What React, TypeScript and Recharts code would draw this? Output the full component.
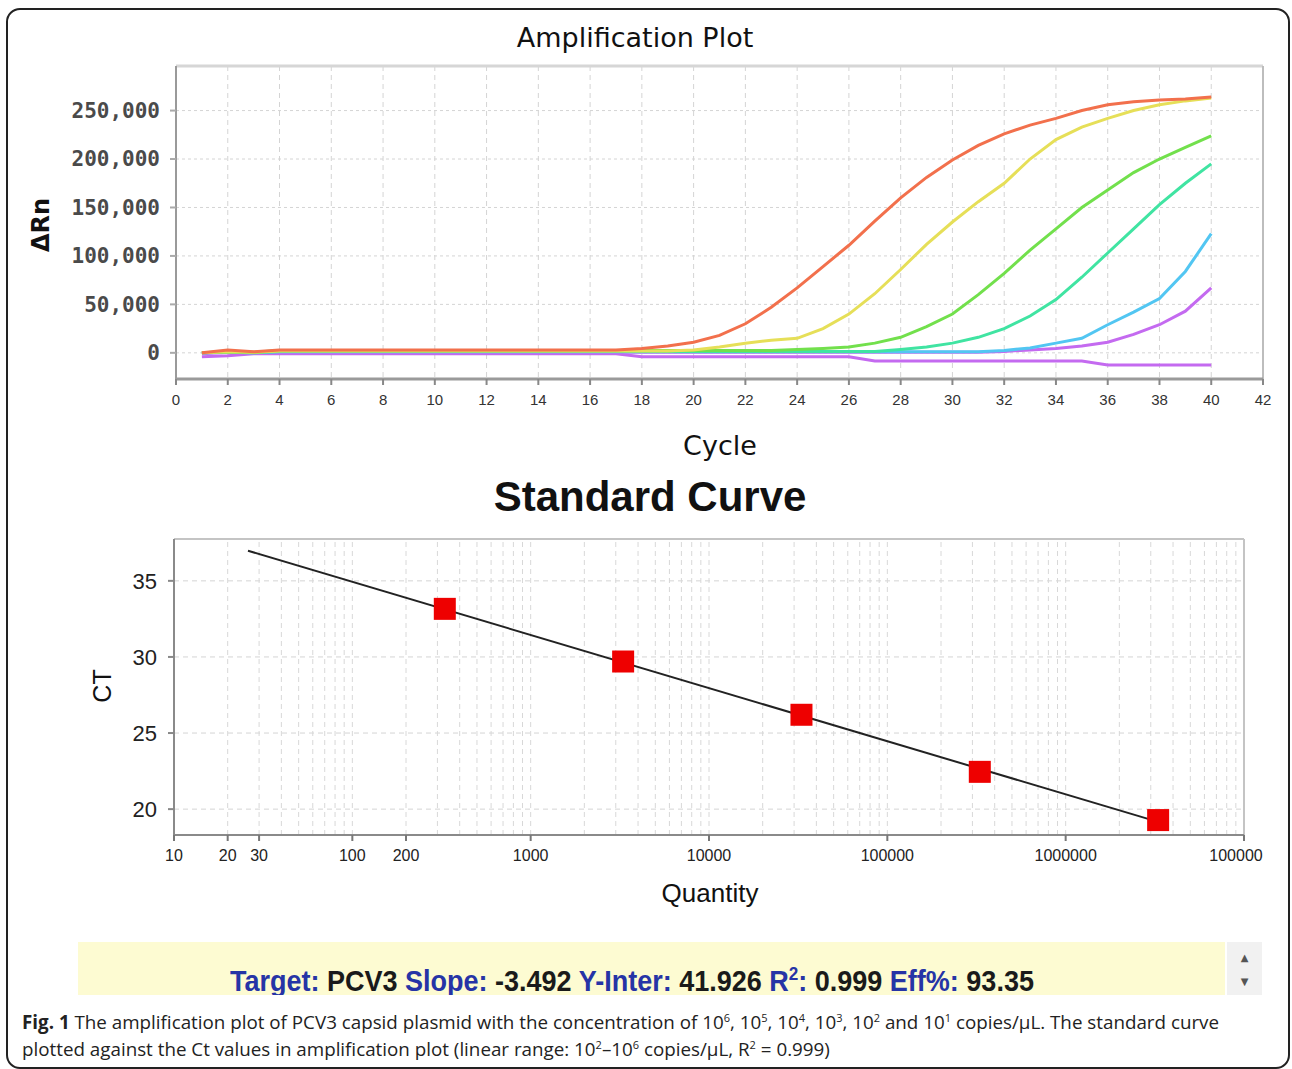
import React from 'react';
import { LineChart, Line, XAxis, YAxis, CartesianGrid, ReferenceLine, ComposedChart, Scatter } from 'recharts';

// ---------- Amplification plot data ----------
const cycles = [1,2,3,4,5,6,7,8,9,10,11,12,13,14,15,16,17,18,19,20,21,22,23,24,25,26,27,28,29,30,31,32,33,34,35,36,37,38,39,40];
const rn1e6 = [0,3000,1000,3000,3000,3000,3000,3000,3000,3000,3000,3000,3000,3000,3000,3000,3000,4500,7000,11000,18000,30000,47000,67000,89000,111000,136000,160000,181000,199000,214000,226000,235000,242000,250000,256000,259000,261000,262000,264000];
const rn1e5 = [0,1000,500,2000,2000,2000,2000,2000,2000,2000,2000,2000,2000,2000,2000,2000,2000,2000,2000,3000,6000,10000,13000,15000,25000,40000,61000,86000,112000,135000,156000,175000,200000,220000,233000,242000,250000,256000,260000,263000];
const rn1e4 = [0,1000,500,2500,2500,2500,2500,2500,2500,2500,2500,2500,2500,2500,2500,2500,2500,2500,2500,2500,2500,2500,2500,3500,4500,6000,10000,16000,27000,40000,60000,82000,106000,128000,150000,168000,186000,200000,212000,224000];
const rn1e3 = [0,500,0,1500,1500,1500,1500,1500,1500,1500,1500,1500,1500,1500,1500,1500,1500,1500,1500,1500,1500,1500,1500,1500,1500,1500,1500,3500,6000,10000,16000,25000,38000,55000,78000,103000,128000,153000,175000,195000];
const rn1e2 = [0,500,0,1000,1000,1000,1000,1000,1000,1000,1000,1000,1000,1000,1000,1000,1000,1000,1000,1000,1000,1000,1000,1000,1000,1000,1000,1000,1000,1000,1000,2500,5000,10000,15000,29000,42000,56000,84000,123000];
const rn1e1 = [-1000,500,500,500,500,500,500,500,500,500,500,500,500,500,500,500,500,500,500,500,500,500,500,500,500,500,500,500,500,500,500,1500,3000,4500,7000,11000,19000,29000,43000,67000];
const rnNtc = [-4000,-3000,-1000,-1000,-1000,-1000,-1000,-1000,-1000,-1000,-1000,-1000,-1000,-1000,-1000,-1000,-1000,-4000,-4000,-4000,-4000,-4000,-4000,-4000,-4000,-4000,-8500,-8500,-8500,-8500,-8500,-8500,-8500,-8500,-8500,-12500,-12500,-12500,-12500,-12500];
const cycleTicks = [0,2,4,6,8,10,12,14,16,18,20,22,24,26,28,30,32,34,36,38,40,42];
const rnTicks = [0,50000,100000,150000,200000,250000];

const ampData = cycles.map((c, i) => ({
  cycle: c,
  s1e6: rn1e6[i], s1e5: rn1e5[i], s1e4: rn1e4[i], s1e3: rn1e3[i], s1e2: rn1e2[i], s1e1: rn1e1[i], ntc: rnNtc[i],
}));

// ---------- Standard curve data ----------
const stdQuantity = [330, 3300, 33000, 330000, 3300000];
const stdCt = [33.16, 29.7, 26.2, 22.45, 19.28];
const fitQuantity = [26, 3300000];
const fitCt = [36.98, 19.16];
const qTicks = [10, 20, 30, 100, 200, 1000, 10000, 100000, 1000000, 10000000];
const qTickLabels = ['10', '20', '30', '100', '200', '1000', '10000', '100000', '1000000', '100000'];
const ctTicks = [20, 25, 30, 35];
const decades = [10, 100, 1000, 10000, 100000, 1000000];
const multipliers = [1, 2, 3, 4, 5, 6, 7, 8, 9];

const stdPoints = stdQuantity.map((q, i) => ({ q, ct: stdCt[i] }));
const fitPoints = fitQuantity.map((q, i) => ({ q, ct: fitCt[i] }));
const minorGrid = decades.flatMap(d => multipliers.map(m => d * m)).filter(v => v > 10);

const SERIES = [
  { key: 'ntc', color: '#c46af0' },
  { key: 's1e1', color: '#c46af0' },
  { key: 's1e2', color: '#52c6f2' },
  { key: 's1e3', color: '#40e4a2' },
  { key: 's1e4', color: '#72e04c' },
  { key: 's1e5', color: '#e6df58' },
  { key: 's1e6', color: '#f2704c' },
];

const abs = (left: number, top: number, extra: React.CSSProperties = {}): React.CSSProperties => ({
  position: 'absolute', left, top, transform: 'translate(-50%, -50%)', whiteSpace: 'nowrap', lineHeight: 1, ...extra,
});

const supStyle: React.CSSProperties = { fontSize: 11, lineHeight: 0, verticalAlign: 'super' };

const Square = (props: any) => {
  const { cx, cy } = props;
  if (cx == null || cy == null) return null;
  return <rect x={cx - 11} y={cy - 11} width={22} height={22} fill="#ee0000" />;
};

const QTick = (props: any) => {
  const { x, y, payload } = props;
  const idx = qTicks.indexOf(payload.value);
  const label = qTickLabels[idx] ?? String(payload.value);
  const dx = payload.value === 10000000 ? -8 : 0;
  return (
    <text x={x + dx} y={y} dy="0.71em" textAnchor="middle" fontFamily="Liberation Sans" fontSize={16} fill="#222">{label}</text>
  );
};

export default function App() {
  return (
    <div style={{ position: 'absolute', left: 0, top: 0, width: 1292, height: 1069, background: '#fff', overflow: 'hidden' }}>
      <div style={{ position: 'absolute', left: 6, top: 8, width: 1280, height: 1057, border: '2px solid #222', borderRadius: 14 }} />

      {/* Amplification plot */}
      <div style={abs(635, 37, { fontFamily: 'DejaVu Sans', fontSize: 27, color: '#111' })}>Amplification Plot</div>
      <div style={abs(41, 225, { fontFamily: 'DejaVu Sans', fontSize: 24, fontWeight: 'bold', color: '#111', transform: 'translate(-50%, -50%) rotate(-90deg)' })}>ΔRn</div>
      <div style={abs(720, 445, { fontFamily: 'DejaVu Sans', fontSize: 27, color: '#111' })}>Cycle</div>
      <div style={{ position: 'absolute', left: 0, top: 0 }}>
        <LineChart width={1292} height={470} data={ampData} margin={{ top: 66, right: 29, bottom: 51, left: 76 }}>
          <CartesianGrid horizontal={false} stroke="#d4d4d4" strokeDasharray="5 4" />
          <CartesianGrid vertical={false} stroke="#d4d4d4" strokeDasharray="3 3" />
          <XAxis
            type="number" dataKey="cycle" domain={[0, 42]} ticks={cycleTicks} interval={0} height={40}
            axisLine={{ stroke: '#9a9a9a', strokeWidth: 3 }} tickLine={{ stroke: '#888', strokeWidth: 2 }} tickSize={6} tickMargin={9}
            tick={{ fontFamily: 'Liberation Sans', fontSize: 15, fill: '#333' }} allowDataOverflow
          />
          <YAxis
            type="number" domain={[-27000, 296000]} ticks={rnTicks} interval={0} width={100}
            axisLine={{ stroke: '#9a9a9a', strokeWidth: 2 }} tickLine={{ stroke: '#aaa', strokeWidth: 2 }} tickSize={6} tickMargin={10}
            tickFormatter={(v: number) => v.toLocaleString('en-US')}
            tick={{ fontFamily: 'DejaVu Sans Mono', fontSize: 21, fontWeight: 'bold', fill: '#4a4a4a' }} allowDataOverflow
          />
          <ReferenceLine y={296000} stroke="#d6d6d6" strokeWidth={3} />
          <ReferenceLine x={42} stroke="#bdbdbd" strokeWidth={2} />
          {SERIES.map(s => (
            <Line key={s.key} type="linear" dataKey={s.key} stroke={s.color} strokeWidth={3} dot={false} isAnimationActive={false} />
          ))}
        </LineChart>
      </div>

      {/* Standard curve */}
      <div style={abs(650, 497, { fontFamily: 'Liberation Sans', fontSize: 42, fontWeight: 'bold', color: '#111' })}>Standard Curve</div>
      <div style={abs(102, 686, { fontFamily: 'Liberation Sans', fontSize: 25, color: '#111', transform: 'translate(-50%, -50%) rotate(-90deg)' })}>CT</div>
      <div style={abs(710, 893, { fontFamily: 'Liberation Sans', fontSize: 26, color: '#111' })}>Quantity</div>
      <div style={{ position: 'absolute', left: 0, top: 460 }}>
        <ComposedChart width={1292} height={470} margin={{ top: 79, right: 48, bottom: 55, left: 114 }}>
          <CartesianGrid vertical={false} stroke="#d4d4d4" strokeDasharray="5 4" />
          <XAxis
            type="number" dataKey="q" scale="log" domain={[10, 10000000]} ticks={qTicks} interval={0} height={40}
            axisLine={{ stroke: '#8a8a8a', strokeWidth: 2 }} tickLine={{ stroke: '#777', strokeWidth: 2 }} tickSize={6} tickMargin={9}
            tick={<QTick />} allowDataOverflow
          />
          <YAxis
            type="number" dataKey="ct" domain={[18.3, 37.75]} ticks={ctTicks} interval={0} width={60}
            axisLine={{ stroke: '#8a8a8a', strokeWidth: 2 }} tickLine={{ stroke: '#888', strokeWidth: 2 }} tickSize={6} tickMargin={11}
            tick={{ fontFamily: 'Liberation Sans', fontSize: 22, fill: '#222' }} allowDataOverflow
          />
          {minorGrid.map(v => (
            <ReferenceLine key={v} x={v} stroke="#d8d8d8" strokeDasharray="5 4" />
          ))}
          <ReferenceLine y={37.75} stroke="#c4c4c4" strokeWidth={2} />
          <ReferenceLine x={10000000} stroke="#c4c4c4" strokeWidth={2} />
          <Line data={fitPoints} dataKey="ct" type="linear" stroke="#222" strokeWidth={2} dot={false} isAnimationActive={false} />
          <Scatter data={stdPoints} dataKey="ct" shape={Square} isAnimationActive={false} />
        </ComposedChart>
      </div>

      {/* Info bar */}
      <div style={{ position: 'absolute', left: 78, top: 942, width: 1147, height: 53, background: '#fdfbd2', overflow: 'hidden' }}>
        <div style={{ position: 'absolute', left: 152, top: 24, fontFamily: 'Liberation Sans', fontWeight: 'bold', fontSize: 30, lineHeight: 1, whiteSpace: 'nowrap', color: '#1a1a1a', transform: 'scaleX(0.9)', transformOrigin: '0 0' }}>
          <span style={{ color: '#2634a6' }}>Target:</span> PCV3 <span style={{ color: '#2634a6' }}>Slope:</span> -3.492 <span style={{ color: '#2634a6' }}>Y-Inter:</span> 41.926 <span style={{ color: '#2634a6' }}>R<sup style={{ fontSize: 19, lineHeight: 0, verticalAlign: 'super' }}>2</sup>:</span> 0.999 <span style={{ color: '#2634a6' }}>Eff%:</span> 93.35
        </div>
      </div>
      <div style={{ position: 'absolute', left: 1227, top: 942, width: 35, height: 53, background: '#f1f1f1' }}>
        <div style={{ position: 'absolute', left: 0, width: 35, top: 10, textAlign: 'center', fontSize: 10, color: '#555', fontFamily: 'DejaVu Sans' }}>▲</div>
        <div style={{ position: 'absolute', left: 0, width: 35, top: 34, textAlign: 'center', fontSize: 10, color: '#555', fontFamily: 'DejaVu Sans' }}>▼</div>
      </div>

      {/* Caption */}
      <div style={{ position: 'absolute', left: 22, top: 1009, fontFamily: 'Open Sans', fontSize: 18.8, lineHeight: '27px', color: '#222', whiteSpace: 'nowrap' }}>
        <b>Fig. 1</b> The amplification plot of PCV3 capsid plasmid with the concentration of 10<sup style={supStyle}>6</sup>, 10<sup style={supStyle}>5</sup>, 10<sup style={supStyle}>4</sup>, 10<sup style={supStyle}>3</sup>, 10<sup style={supStyle}>2</sup> and 10<sup style={supStyle}>1</sup> copies/μL. The standard curve
        <br />
        plotted against the Ct values in amplification plot (linear range: 10<sup style={supStyle}>2</sup>–10<sup style={supStyle}>6</sup> copies/μL, R<sup style={supStyle}>2</sup> = 0.999)
      </div>
    </div>
  );
}
